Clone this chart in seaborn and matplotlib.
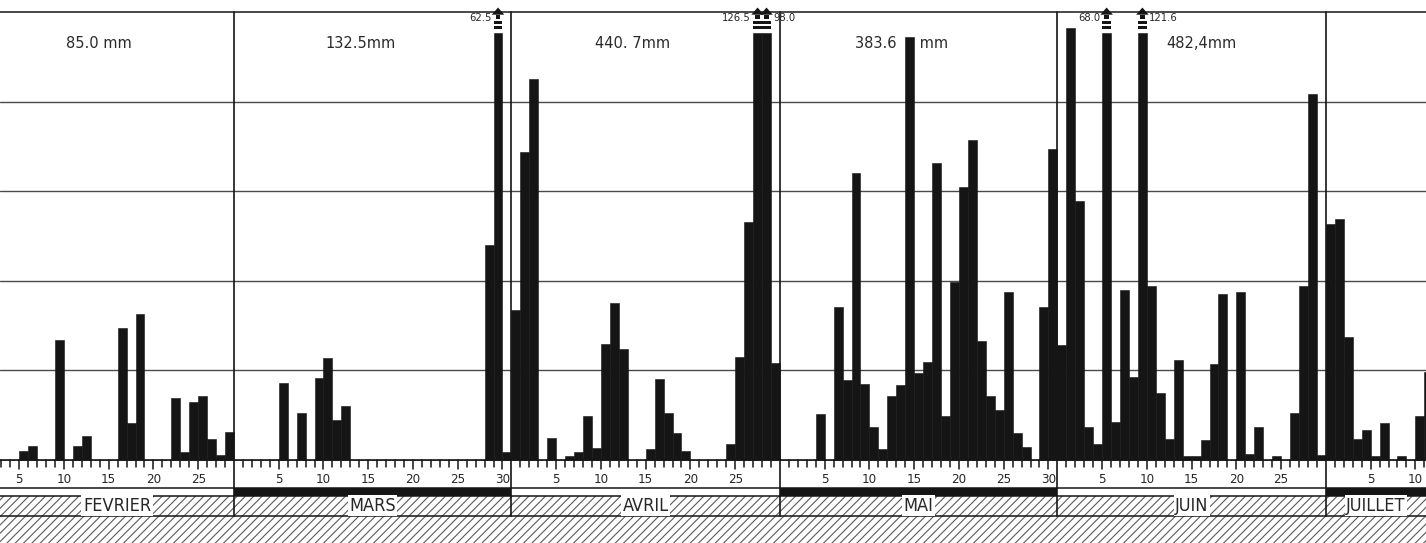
import numpy as np
import pandas as pd
import matplotlib
matplotlib.use("Agg")
import matplotlib.pyplot as plt
from matplotlib.patches import Rectangle, Polygon
from matplotlib import font_manager
from matplotlib.font_manager import FontProperties
import seaborn as sns

# pluie journaliere (mm) : jour du mois -> hauteur
feb_days = [6, 7, 10, 12, 13, 17, 18, 19, 23, 24, 25, 26, 27, 28, 29]
feb_mm = [1.0, 1.6, 13.4, 1.6, 2.7, 14.7, 4.1, 16.3, 6.9, 0.9, 6.5, 7.2, 2.4, 0.6, 3.1]
mar_days = [6, 8, 10, 11, 12, 13, 29, 30, 31]
mar_mm = [8.6, 5.2, 9.2, 11.4, 4.5, 6.0, 24.0, 62.5, 0.9]
apr_days = [1, 2, 3, 5, 7, 8, 9, 10, 11, 12, 13, 16, 17, 18, 19, 20, 25, 26, 27, 28, 29, 30]
apr_mm = [16.7, 34.4, 42.5, 2.5, 0.5, 0.9, 4.9, 1.3, 13.0, 17.5, 12.4, 1.2, 9.0, 5.3, 3.0,
          1.0, 1.8, 11.5, 26.6, 126.5, 98.0, 10.8]
may_days = [5, 7, 8, 9, 10, 11, 12, 13, 14, 15, 16, 17, 18, 19, 20, 21, 22, 23, 24, 25, 26,
            27, 28, 30, 31]
may_mm = [5.1, 17.1, 8.9, 32.0, 8.5, 3.7, 1.2, 7.1, 8.4, 47.2, 9.7, 10.9, 33.2, 4.9, 19.9,
          30.5, 35.7, 13.3, 7.2, 5.6, 18.8, 3.0, 1.4, 17.1, 34.7]
jun_days = [1, 2, 3, 4, 5, 6, 7, 8, 9, 10, 11, 12, 13, 14, 15, 16, 17, 18, 19, 21, 22, 23,
            25, 27, 28, 29, 30]
jun_mm = [12.8, 48.2, 28.9, 3.7, 1.8, 68.0, 4.2, 19.0, 9.3, 121.6, 19.4, 7.5, 2.4, 11.2,
          0.5, 0.5, 2.2, 10.7, 18.5, 18.8, 0.7, 3.7, 0.5, 5.2, 19.4, 40.9, 0.6]
jul_days = [1, 2, 3, 4, 5, 6, 7, 9, 11, 12]
jul_mm = [26.3, 26.9, 13.7, 2.4, 3.4, 0.5, 4.1, 0.4, 4.9, 9.8]

mois = ["FEVRIER", "MARS", "AVRIL", "MAI", "JUIN", "JUILLET"]
totaux = ["85.0 mm", "132.5mm", "440. 7mm", "383.6     mm", "482,4mm", ""]

# construction de la serie journaliere
debut = pd.Timestamp("1980-02-01")
debuts_mois = pd.date_range(debut, periods=6, freq="MS")
jours_mois = [feb_days, mar_days, apr_days, may_days, jun_days, jul_days]
pluie_mois = [feb_mm, mar_mm, apr_mm, may_mm, jun_mm, jul_mm]

dates = pd.date_range(debut, "1980-07-31", freq="D")
df = pd.DataFrame({"date": dates, "pluie": 0.0})
for m, jj, pp in zip(debuts_mois, jours_mois, pluie_mois):
    for j, p in zip(jj, pp):
        df.loc[df["date"] == m + pd.Timedelta(days=j - 1), "pluie"] = p
df["jour"] = (df["date"] - debut).dt.days
df["centre"] = df["jour"] + 0.5
HAUT = 50.0
df["barre"] = df["pluie"].where(df["pluie"] <= HAUT, 47.7)

sns.set_style("white")
plt.rcParams["font.family"] = ["DejaVu Sans"]
plt.rcParams["hatch.linewidth"] = 0.8

# police etroite pour les chiffres et les mois, si une est installee
etroites = [f for f in font_manager.fontManager.ttflist
            if ("Narrow" in f.name or "Condensed" in f.name
                or f.stretch in ("condensed", "semi-condensed", "extra-condensed"))
            and "Mono" not in f.name and "Serif" not in f.name
            and f.weight in (400, "normal", "regular", "book")
            and f.style == "normal"]
if etroites:
    f_etr = etroites[0].fname
    t_jour, t_mois, t_val = 9.5, 13, 8
else:
    f_etr = font_manager.findfont("Liberation Sans")
    t_jour, t_mois, t_val = 8.5, 11, 7


def police(taille):
    return FontProperties(fname=f_etr, size=taille)


fig = plt.figure(figsize=(14.26, 5.43), dpi=100)
ax = fig.add_axes([0, 0, 1, 1])

noir = "#151515"
gris = "#4a4a4a"

# barres journalieres
sns.histplot(data=df, x="centre", weights="barre", binwidth=1, binrange=(0, len(df)),
             color=noir, alpha=1, edgecolor=noir, linewidth=0.4, ax=ax, zorder=3)

xg, xd = 2.855, 2.855 + 1426 / 8.95
ax.set_xlim(xg, xd)
ax.set_ylim(-9.26, 51.34)

# grille horizontale
for y in [10, 20, 30, 40]:
    ax.plot([xg, xd], [y, y], color=gris, lw=1.0, zorder=1)
ax.plot([xg, xd], [HAUT, HAUT], color=gris, lw=1.4, zorder=1)
ax.plot([xg, xd], [0, 0], color=noir, lw=1.2, zorder=4)

# barres hors echelle : coupures, fleche et valeur
cote = {"1980-03-30": "g", "1980-04-28": "g", "1980-04-29": "d",
        "1980-06-06": "g", "1980-06-10": "d"}
for _, r in df[df["pluie"] > HAUT].iterrows():
    x0 = r["jour"]
    for y0, y1 in [(48.15, 48.45), (48.65, 48.95)]:
        ax.add_patch(Rectangle((x0, y0), 1, y1 - y0, color=noir, lw=0, zorder=5))
    ax.add_patch(Rectangle((x0 + 0.25, 49.25), 0.5, 0.45, color=noir, lw=0, zorder=5))
    ax.add_patch(Polygon([[x0 - 0.2, 49.7], [x0 + 1.2, 49.7], [x0 + 0.5, 50.5]],
                         closed=True, color=noir, lw=0, zorder=5))
    lab = f"{r['pluie']:.1f}"
    if cote[r["date"].strftime("%Y-%m-%d")] == "g":
        ax.text(x0 - 0.25, 49.3, lab, ha="right", va="center", fontproperties=police(t_val),
                zorder=6)
    else:
        ax.text(x0 + 1.25, 49.3, lab, ha="left", va="center", fontproperties=police(t_val),
                zorder=6)

# bandeau du bas
ax.add_patch(Rectangle((xg, -9.3), xd - xg, 9.3 - 3.96, facecolor="white",
                       edgecolor="#5a5a5a", hatch="////", lw=0, zorder=1))
for y in [-3.125, -3.96, -6.25]:
    ax.plot([xg, xd], [y, y], color=noir, lw=1.1, zorder=4)

pos_totaux = [13.9, 14.1, 13.5, 13.6, 16.1]
for i, (m, nom) in enumerate(zip(debuts_mois, mois)):
    x0 = (m - debut).days
    n = m.days_in_month
    x1 = x0 + n
    if i > 0:
        ax.plot([x0, x0], [-6.25, HAUT], color=noir, lw=1.2, zorder=4)
    for k in range(1, n):
        if x0 + k > xd:
            break
        long = -1.0 if k % 5 == 0 else -0.78
        ax.plot([x0 + k, x0 + k], [0, long], color=noir, lw=1.1, zorder=4)
        if k % 5 == 0 and x0 + k < xd - 0.8:
            ax.text(x0 + k, -2.2, str(k), ha="center", va="center",
                    fontproperties=police(t_jour), zorder=4)
    if i % 2 == 1:
        ax.add_patch(Rectangle((x0, -3.96), n, 0.835, color=noir, lw=0, zorder=4))
    xc = (max(x0, xg) + min(x1, xd)) / 2
    ax.text(xc, -5.1, nom, ha="center", va="center", fontproperties=police(t_mois),
            zorder=5, bbox=dict(facecolor="white", edgecolor="none", pad=1.0))
    if totaux[i]:
        ax.text(x0 + pos_totaux[i], 46.45, totaux[i], ha="center", va="center",
                fontsize=10.5, color="#2a2a2a", zorder=2)

ax.set_axis_off()
fig.savefig("out.png", dpi=100)
